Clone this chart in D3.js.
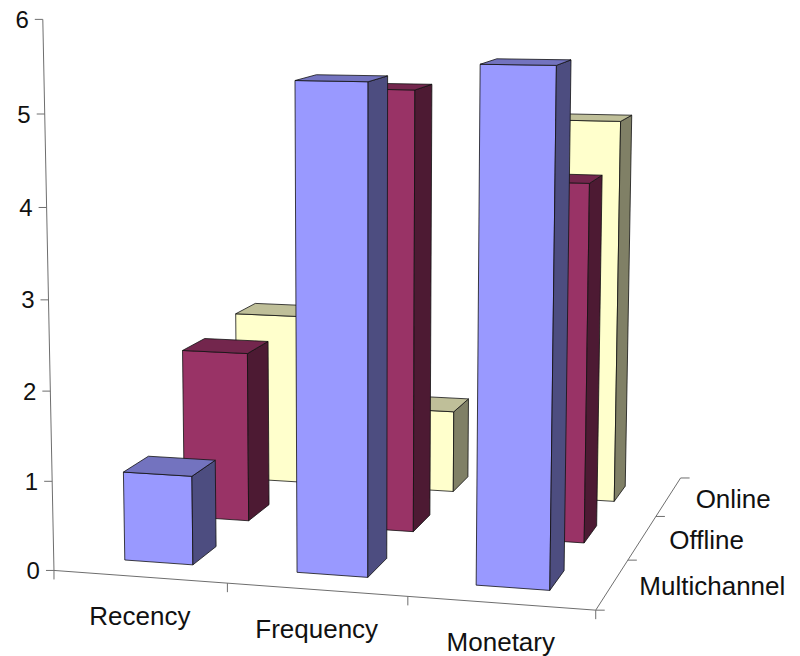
<!DOCTYPE html>
<html>
<head>
<meta charset="utf-8">
<script src="https://cdn.jsdelivr.net/npm/d3@7"></script>
<style>
  body { margin: 0; background: #fff; }
  svg { display: block; }
  text { font-family: "Liberation Sans", Arial, Helvetica, sans-serif; fill: #111; }
</style>
</head>
<body>
<svg id="chart" width="800" height="656"></svg>
<script>
// ---- data ----
const categories = ["Recency", "Frequency", "Monetary"];
const series = ["Multichannel", "Offline", "Online"];
const multichannel = [1.0, 5.35, 5.55];
const offline = [2.0, 5.1, 4.1];
const online = [2.1, 1.0, 4.6];
const valueTicks = [0, 1, 2, 3, 4, 5, 6];
const seriesColors = ["#9999FF", "#993366", "#FFFFCC"];

const seriesValues = [multichannel, offline, online];

// ---- 3D box: category step = 1, series step = 1, value unit = 1 ----
const xScale = d3.scaleBand().domain(categories).range([0, 3]).paddingInner(0.6).paddingOuter(0.3);
const zScale = d3.scaleBand().domain(series).range([0, 3]).paddingInner(0.6).paddingOuter(0.3);
const yScale = d3.scaleLinear().domain([0, 6]).range([0, 6]);

// Perspective camera, solved (least squares) from where the box frame lands on the page:
// [boxX, boxY, boxZ, pageX, pageY]
const frameAnchors = [
  [0, 0, 0, 53.3, 568.3], [1, 0, 0, 228, 583], [2, 0, 0, 407.7, 597], [3, 0, 0, 596, 610],
  [3, 0, 1, 628, 560], [3, 0, 2, 655, 517.3], [3, 0, 3, 681, 477],
  [0.3, 0, 0.3, 124, 560], [0.3, 0, 1.3, 185, 518], [0.3, 0, 2.3, 237, 478],
  [0, 1, 0, 52.3, 482.3], [0, 2, 0, 50.7, 391.7], [0, 3, 0, 49, 299.3],
  [0, 4, 0, 46.7, 207.3], [0, 5, 0, 44.3, 113.3], [0, 6, 0, 42.7, 20]
];

function solveCamera(pairs) {
  const n = 11;
  const M = Array.from({ length: n }, () => new Array(n + 1).fill(0));
  const addRow = (row, rhs) => {
    for (let i = 0; i < n; i++) {
      for (let j = 0; j < n; j++) M[i][j] += row[i] * row[j];
      M[i][n] += row[i] * rhs;
    }
  };
  for (const [X, Y, Z, u, v] of pairs) {
    addRow([X, Y, Z, 1, 0, 0, 0, 0, -u * X, -u * Y, -u * Z], u);
    addRow([0, 0, 0, 0, X, Y, Z, 1, -v * X, -v * Y, -v * Z], v);
  }
  for (let c = 0; c < n; c++) {
    let piv = c;
    for (let r = c + 1; r < n; r++) if (Math.abs(M[r][c]) > Math.abs(M[piv][c])) piv = r;
    [M[c], M[piv]] = [M[piv], M[c]];
    for (let r = 0; r < n; r++) {
      if (r === c) continue;
      const f = M[r][c] / M[c][c];
      for (let k = c; k <= n; k++) M[r][k] -= f * M[c][k];
    }
  }
  return M.map((row, i) => row[n] / row[i]);
}

const P = solveCamera(frameAnchors);
function project(X, Y, Z) {
  const w = P[8] * X + P[9] * Y + P[10] * Z + 1;
  return [(P[0] * X + P[1] * Y + P[2] * Z + P[3]) / w, (P[4] * X + P[5] * Y + P[6] * Z + P[7]) / w];
}

const svg = d3.select("#chart");
const line = d3.line();
const pts = arr => arr.map(p => project(p[0], p[1], p[2]));

// ---- axes ----
const axisG = svg.append("g").attr("stroke", "#6e6e6e").attr("stroke-width", 1).attr("fill", "none");
const xMax = xScale.range()[1], zMax = zScale.range()[1];

// value axis at the front-left corner, category axis along the front floor edge,
// depth axis along the right floor edge
axisG.append("path").attr("d", line(pts([[0, yScale(0), 0], [0, yScale(6), 0]])));
axisG.append("path").attr("d", line(pts([[0, 0, 0], [xMax, 0, 0]])));
axisG.append("path").attr("d", line(pts([[xMax, 0, 0], [xMax, 0, zMax]])));

valueTicks.forEach(t => {
  const [x, y] = project(0, yScale(t), 0);
  axisG.append("path").attr("d", line([[x - 8, y], [x, y]]));
  svg.append("text").attr("x", x - 14).attr("y", y + 8.6)
    .attr("text-anchor", "end").attr("font-size", 24).text(t);
});

d3.range(categories.length + 1).forEach(i => {
  const [x, y] = project(i * xScale.step(), 0, 0);
  axisG.append("path").attr("d", line([[x, y], [x, y + 9]]));
});
d3.range(series.length + 1).forEach(i => {
  const [x, y] = project(xMax, 0, i * zScale.step());
  axisG.append("path").attr("d", line([[x, y], [x + 9, y]]));
});

categories.forEach(c => {
  const [x, y] = project(xScale(c) + xScale.bandwidth() / 2, 0, 0);
  svg.append("text").attr("x", x).attr("y", y + 48)
    .attr("text-anchor", "middle").attr("font-size", 26).text(c);
});
series.forEach(s => {
  const [x, y] = project(xMax, 0, zScale(s) + zScale.bandwidth() / 2);
  svg.append("text").attr("x", x + 27).attr("y", y + 11)
    .attr("font-size", 26).text(s);
});

// ---- bars (back row first, left to right) ----
const shade = (hex, k) => { const c = d3.rgb(hex); return d3.rgb(c.r * k, c.g * k, c.b * k).formatHex(); };
const bars = [];
series.forEach((s, si) => categories.forEach((c, ci) => bars.push({ s, si, c, ci, v: seriesValues[si][ci] })));
bars.sort((a, b) => b.si - a.si || a.ci - b.ci);

const barG = svg.append("g").attr("stroke", "#111").attr("stroke-width", 0.8).attr("stroke-linejoin", "round");
bars.forEach(d => {
  const x0 = xScale(d.c), x1 = x0 + xScale.bandwidth();
  const z0 = zScale(d.s), z1 = z0 + zScale.bandwidth();
  const h = yScale(d.v);
  const col = seriesColors[d.si];
  const g = barG.append("g");
  // front face
  g.append("path").attr("fill", col)
    .attr("d", line(pts([[x0, 0, z0], [x1, 0, z0], [x1, h, z0], [x0, h, z0]])) + "Z");
  // right side face
  g.append("path").attr("fill", shade(col, 0.5))
    .attr("d", line(pts([[x1, 0, z0], [x1, 0, z1], [x1, h, z1], [x1, h, z0]])) + "Z");
  // top face
  g.append("path").attr("fill", shade(col, 0.75))
    .attr("d", line(pts([[x0, h, z0], [x1, h, z0], [x1, h, z1], [x0, h, z1]])) + "Z");
});
</script>
</body>
</html>
